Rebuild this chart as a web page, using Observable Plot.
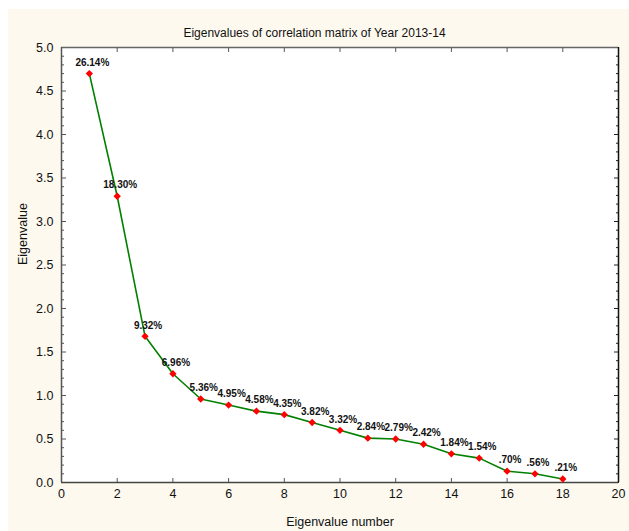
<!DOCTYPE html>
<html>
<head>
<meta charset="utf-8">
<script src="https://cdn.jsdelivr.net/npm/d3@7"></script>
<script src="https://cdn.jsdelivr.net/npm/@observablehq/plot@0.6"></script>
<style>
  html, body { margin: 0; padding: 0; background: #ffffff; }
  #wrap { position: relative; width: 629px; height: 531px; overflow: hidden; }
  #bg { position: absolute; left: 8px; top: 9px; right: 0; bottom: 0; background: #fdf9ef; }
  #title { position: absolute; left: 0; width: 629px; top: 26px; text-align: center;
    font: 12px "Liberation Sans", Arial, sans-serif; color: #111; }
  #chart { position: absolute; left: 0; top: 0; }
</style>
</head>
<body>
<div id="wrap">
  <div id="bg"></div>
  <div id="chart"></div>
  <div id="title">Eigenvalues of correlation matrix of Year 2013-14</div>
</div>
<script>
const eigenNumbers = [1, 2, 3, 4, 5, 6, 7, 8, 9, 10, 11, 12, 13, 14, 15, 16, 17, 18];
const eigenValues = [4.70, 3.29, 1.68, 1.25, 0.96, 0.89, 0.82, 0.78, 0.69, 0.60, 0.51, 0.50, 0.44, 0.33, 0.28, 0.13, 0.10, 0.04];
const percentLabels = ["26.14%", "18.30%", "9.32%", "6.96%", "5.36%", "4.95%", "4.58%", "4.35%", "3.82%", "3.32%", "2.84%", "2.79%", "2.42%", "1.84%", "1.54%", ".70%", ".56%", ".21%"];
const xTicks = [0, 2, 4, 6, 8, 10, 12, 14, 16, 18, 20];
const yTicks = [0.0, 0.5, 1.0, 1.5, 2.0, 2.5, 3.0, 3.5, 4.0, 4.5, 5.0];
const yMinorTicks = [0.1,0.2,0.3,0.4,0.6,0.7,0.8,0.9,1.1,1.2,1.3,1.4,1.6,1.7,1.8,1.9,2.1,2.2,2.3,2.4,2.6,2.7,2.8,2.9,3.1,3.2,3.3,3.4,3.6,3.7,3.8,3.9,4.1,4.2,4.3,4.4,4.6,4.7,4.8,4.9];

const data = eigenNumbers.map((n, i) => ({n, v: eigenValues[i], label: percentLabels[i]}));

const font = '"Liberation Sans", Arial, sans-serif';

const chart = Plot.plot({
  width: 629,
  height: 531,
  marginLeft: 61,
  marginRight: 11,
  marginTop: 47,
  marginBottom: 49,
  style: { background: "transparent", fontFamily: font, fontSize: "12px", color: "#111" },
  x: { domain: [0, 20] },
  y: { domain: [0, 5] },
  marks: [
    Plot.frame({ fill: "white", stroke: null }),
    Plot.axisX(xTicks, { anchor: "bottom", tickSize: -4, tickPadding: 11, tickFormat: d => String(d), fontSize: 12.5, label: null, stroke: "#555" }),
    Plot.axisX(xTicks, { anchor: "top", tickSize: -4, text: null, label: null, stroke: "#555" }),
    Plot.axisY(yTicks, { anchor: "left", tickSize: -5, tickPadding: 13, tickFormat: d3.format(".1f"), fontSize: 12.5, label: null, stroke: "#555" }),
    Plot.axisY(yMinorTicks, { anchor: "left", tickSize: -3, text: null, label: null, stroke: "#555" }),
    Plot.axisY(yTicks, { anchor: "right", tickSize: -5, text: null, label: null, stroke: "#222" }),
    Plot.axisY(yMinorTicks, { anchor: "right", tickSize: -3, text: null, label: null, stroke: "#222" }),
    Plot.ruleY([5], { stroke: "#666", strokeWidth: 1.5 }),
    Plot.ruleX([0], { stroke: "#555", strokeWidth: 1.5 }),
    Plot.ruleY([0], { stroke: "#444", strokeWidth: 1.5 }),
    Plot.ruleX([20], { stroke: "#111", strokeWidth: 1.5 }),
    Plot.text(["Eigenvalue number"], { frameAnchor: "bottom", dy: 43, fontSize: 12.5, fill: "#111" }),
    Plot.text(["Eigenvalue"], { frameAnchor: "left", dx: -39, rotate: -90, fontSize: 12.5, fill: "#111" }),
    Plot.line(data, { x: "n", y: "v", stroke: "#008000", strokeWidth: 1.6 }),
    Plot.dot(data, { x: "n", y: "v", symbol: "diamond2", r: 3.3, fill: "#ff0000", stroke: null }),
    Plot.text(data, { x: "n", y: "v", text: "label", dx: 3, dy: -11, fontSize: 10, fontWeight: "bold", fill: "#111" })
  ]
});
document.getElementById("chart").appendChild(chart);
</script>
</body>
</html>
